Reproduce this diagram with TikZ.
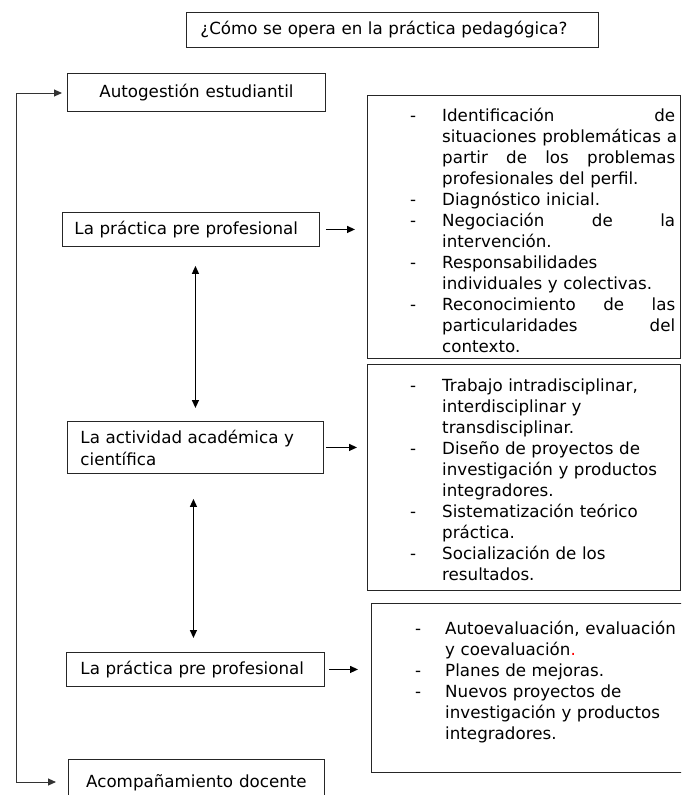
\documentclass[tikz,border=0pt]{standalone}
\usepackage{fontspec}
\setmainfont[WordSpace=1.1]{DejaVu Sans}
\usetikzlibrary{arrows.meta}
\newcommand\txtfont{\fontsize{16.7}{21}\selectfont}
\newlength\dashw
\setlength\dashw{32pt}
\newcommand\myJust[1]{\makebox[233pt][s]{\spaceskip=0.35em plus 1fil\relax #1}}
\newcommand\myItemJ[1]{\strut\makebox[\dashw][l]{-}\myJust{#1}}
\newcommand\myItemL[1]{\strut\makebox[\dashw][l]{-}#1}
\newcommand\myContJ[1]{\strut\hspace*{\dashw}\myJust{#1}}
\newcommand\myContL[1]{\strut\hspace*{\dashw}#1}
\begin{document}
\begin{tikzpicture}[x=1pt,y=-1pt,
  box/.style={draw=black!85, line width=0.9pt, inner sep=0pt, anchor=north west, font=\txtfont},
  lbox/.style={box, align=left},
  listtext/.style={inner sep=0pt, anchor=north west, text width=285pt, align=left, font=\txtfont},
  tipA/.tip={Triangle[length=8pt,width=7pt]},
  arr/.style={line width=1.3pt, -tipA},
  darr/.style={line width=1.3pt, tipA-tipA},
  loop/.style={line width=1pt, draw=black!80, tipA-tipA}]
\clip (0,0) rectangle (681,795);
% left column
\node[lbox, minimum width=412pt, minimum height=35pt, text width=384pt, inner xsep=14pt] (title) at (186,12) {¿Cómo se opera en la práctica pedagógica?};
\node[box, minimum width=258pt, minimum height=38pt, align=center] (auto) at (67,73) {Autogestión estudiantil};
\node[lbox, minimum width=257pt, minimum height=34pt, text width=233pt, inner xsep=12pt] (p1) at (62,212) {La práctica pre profesional};
\node[lbox, minimum width=256pt, minimum height=52pt, text width=230pt, inner xsep=13pt, font=\fontsize{16.7}{22}\selectfont] (act) at (67,421) {La actividad académica y\\científica};
\node[lbox, minimum width=258pt, minimum height=34pt, text width=230pt, inner xsep=14pt] (p2) at (66,652) {La práctica pre profesional};
\node[box, minimum width=256pt, minimum height=46pt, align=center] (acomp) at (68,759) {Acompañamiento docente};
% right boxes
\node[box, minimum width=313pt, minimum height=263pt] (r1) at (367,95) {};
\node[box, minimum width=313pt, minimum height=226pt] (r2) at (367,364) {};
\node[box, minimum width=320pt, minimum height=169pt] (r3) at (371,603) {};
\node[listtext] (l1) at ([shift={(43,11.3)}]r1.north west) {%
\myItemJ{Identificación de}\\
\myContJ{situaciones problemáticas a}\\
\myContJ{partir de los problemas}\\
\myContL{profesionales del perfil.}\\
\myItemL{Diagnóstico inicial.}\\
\myItemJ{Negociación de la}\\
\myContL{intervención.}\\
\myItemL{Responsabilidades}\\
\myContL{individuales y colectivas.}\\
\myItemJ{Reconocimiento de las}\\
\myContJ{particularidades del}\\
\myContL{contexto.}};
\node[listtext] (l2) at ([shift={(43,12.3)}]r2.north west) {%
\myItemL{Trabajo intradisciplinar,}\\
\myContL{interdisciplinar y}\\
\myContL{transdisciplinar.}\\
\myItemL{Diseño de proyectos de}\\
\myContL{investigación y productos}\\
\myContL{integradores.}\\
\myItemL{Sistematización teórico}\\
\myContL{práctica.}\\
\myItemL{Socialización de los}\\
\myContL{resultados.}};
\node[listtext, font={\txtfont\setlength\dashw{30pt}}] (l3) at ([shift={(44,16.3)}]r3.north west) {%
\myItemL{Autoevaluación, evaluación}\\
\myContL{y coevaluación{\color{red}.}}\\
\myItemL{Planes de mejoras.}\\
\myItemL{Nuevos proyectos de}\\
\myContL{investigación y productos}\\
\myContL{integradores.}};
% connectors
\coordinate (c1) at (16,93);
\coordinate (c2) at (16,782);
\draw[loop, shorten <=5pt, shorten >=12pt] (c1 -| auto.west) -- (c1) -- (c2) -- (c2 -| acomp.west);
\draw[arr, shorten <=6pt, shorten >=12pt] (p1.east) -- (p1.east -| r1.west);
\draw[arr, shorten <=2pt, shorten >=10pt] (act.east) -- (act.east -| r2.west);
\draw[arr, shorten <=4pt, shorten >=13pt] (p2.east) -- (p2.east -| r3.west);
\draw[darr, shorten <=19pt, shorten >=13pt] (act.north |- p1.south) -- (act.north);
\draw[darr, shorten <=25pt, shorten >=14pt] ([xshift=-2pt]act.south) -- ([xshift=-2pt]act.south |- p2.north);
\end{tikzpicture}
\end{document}
